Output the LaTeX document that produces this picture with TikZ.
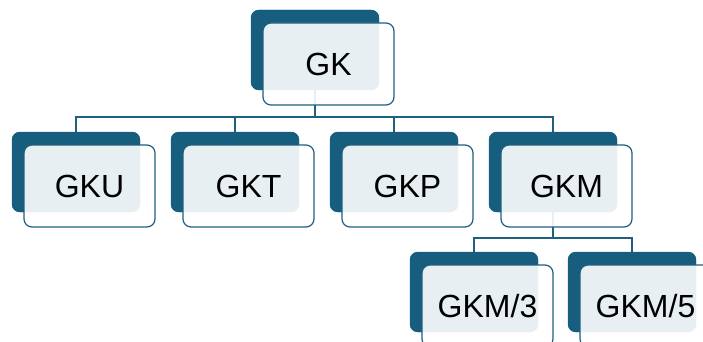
\documentclass[tikz,border=0pt]{standalone}
\usepackage{fontspec}
\setmainfont{Liberation Sans}
\definecolor{teal}{HTML}{175E7E}
\definecolor{wire}{HTML}{1F5F7F}
\begin{document}
\begin{tikzpicture}[x=1pt,y=-1pt,
  backbox/.style={fill=teal, draw=none, rounded corners=8pt,
    minimum width=128pt, minimum height=80pt, inner sep=0pt},
  frontbox/.style={fill=white, fill opacity=0.9, text opacity=1,
    draw=wire, line width=1.2pt, rounded corners=8pt,
    minimum width=131pt, minimum height=82pt, inner sep=0pt,
    font=\fontsize{32}{38}\selectfont},
  link/.style={draw=wire, line width=1.2pt}]
\useasboundingbox (0,0) rectangle (703,342);
\clip (0,0) rectangle (703,342);

% back plates (centres)
\node[backbox] (gk)  at (315,50) {};
\node[backbox] (gku) at (76,172) {};
\node[backbox] (gkt) at (235,172) {};
\node[backbox] (gkp) at (394,172) {};
\node[backbox] (gkm) at (553,172) {};
\node[backbox] (gkma) at (474,292) {};
\node[backbox] (gkmb) at (632,292) {};

% bus lines
\coordinate (bus1) at (0,117);
\coordinate (bus2) at (0,238);

% connectors are drawn under the front cards
\path[link] (gk.south) -- (gk.south |- bus1) -| (gku.north);
\path[link] (gk.south |- bus1) -| (gkt.north);
\path[link] (gk.south |- bus1) -| (gkp.north);
\path[link] (gk.south |- bus1) -| (gkm.north);
\path[link] (gkm.south) -- (gkm.south |- bus2) -| (gkma.north);
\path[link] (gkm.south |- bus2) -| (gkmb.north);

% redraw the back plates over the connector ends
\foreach \n in {gk,gku,gkt,gkp,gkm,gkma,gkmb}
  \fill[teal, rounded corners=8pt] (\n.north west) rectangle (\n.south east);

% front cards
\node[frontbox] (gkF)   at ([shift={(13.5,14)}]gk)   {GK};
\node[frontbox] (gkuF)  at ([shift={(13.5,14)}]gku)  {GKU};
\node[frontbox] (gktF)  at ([shift={(13.5,14)}]gkt)  {GKT};
\node[frontbox] (gkpF)  at ([shift={(13.5,14)}]gkp)  {GKP};
\node[frontbox] (gkmF)  at ([shift={(13.5,14)}]gkm)  {GKM};
\node[frontbox] (gkmaF) at ([shift={(13.5,14)}]gkma) {GKM/3};
\node[frontbox] (gkmbF) at ([shift={(13.5,14)}]gkmb) {GKM/5};
\end{tikzpicture}
\end{document}
